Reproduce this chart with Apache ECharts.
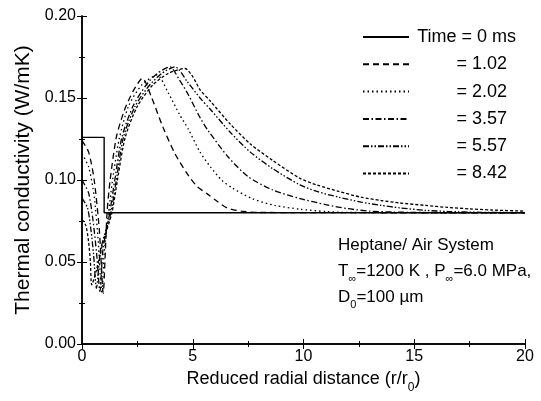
<!DOCTYPE html>
<html>
<head>
<meta charset="utf-8">
<script src="https://cdn.jsdelivr.net/npm/echarts@6/dist/echarts.min.js"></script>
<style>
html,body{margin:0;padding:0;background:#fff;}
#chart{width:541px;height:401px;}
</style>
</head>
<body>
<div id="chart"></div>
<script>
// ---- data ----
const seriesNames = ['Time = 0 ms', '= 1.02', '= 2.02', '= 3.57', '= 5.57', '= 8.42'];

const x_t0 = [0, 1.0, 1.0, 20];
const y_t0 = [0.126, 0.126, 0.080, 0.080];

const x_t102 = [0,0.3,0.55,0.78,0.96,1.05,1.13,1.27,1.55,1.9,2.3,2.73,3.15,3.66,4.2,4.74,5.2,5.64,6.1,6.55,7.2,8.0,20];
const y_t102 = [0.124,0.117,0.100,0.070,0.031,0.055,0.080,0.100,0.126,0.142,0.154,0.162,0.150,0.132,0.116,0.104,0.096,0.0917,0.087,0.083,0.081,0.0802,0.080];

const x_t202 = [0,0.3,0.55,0.72,0.9,1.0,1.2,1.38,1.68,2.1,2.7,3.39,3.9,4.4,4.8,5.33,5.8,6.3,6.8,7.7,8.7,9.84,11,12,20];
const y_t202 = [0.116,0.108,0.090,0.065,0.031,0.055,0.080,0.100,0.125,0.145,0.158,0.164,0.153,0.140,0.131,0.117,0.108,0.100,0.095,0.0885,0.0845,0.0822,0.0808,0.0802,0.080];

const x_t357 = [0,0.3,0.5,0.66,0.81,0.95,1.25,1.48,1.8,2.3,2.9,3.4,3.97,4.4,4.8,5.33,5.7,6.6,7.5,8.6,9.84,11,12,13,14,15,20];
const y_t357 = [0.100,0.092,0.075,0.055,0.032,0.058,0.080,0.100,0.126,0.145,0.158,0.165,0.169,0.161,0.152,0.138,0.130,0.114,0.102,0.094,0.0887,0.085,0.0825,0.081,0.0805,0.0802,0.080];

const x_t557 = [0,0.25,0.4,0.52,0.65,0.85,1.3,1.55,1.87,2.4,3.0,3.6,4.2,4.75,5.33,5.8,6.7,7.6,8.6,9.84,10.6,11.6,12.6,13.5,14.36,15.5,16.5,18,20];
const y_t557 = [0.089,0.083,0.070,0.055,0.034,0.058,0.080,0.100,0.126,0.145,0.157,0.165,0.169,0.160,0.150,0.143,0.129,0.117,0.107,0.097,0.093,0.0895,0.0865,0.0845,0.083,0.0815,0.0808,0.0803,0.0801];

const x_t842 = [0,0.18,0.3,0.38,0.44,0.65,0.95,1.35,1.6,1.95,2.5,3.2,3.9,4.65,5.0,5.33,5.8,6.7,7.6,8.6,9.84,10.6,11.6,12.6,13.5,14.36,15.5,16.5,17.5,18.5,20];
const y_t842 = [0.076,0.072,0.062,0.050,0.036,0.045,0.062,0.080,0.100,0.126,0.145,0.158,0.165,0.168,0.163,0.155,0.148,0.134,0.122,0.112,0.101,0.097,0.093,0.0895,0.0875,0.086,0.0845,0.0833,0.0824,0.0817,0.081];

const xTicks = [0, 5, 10, 15, 20];
const yTicks = [0.00, 0.05, 0.10, 0.15, 0.20];

// ---- build ----
const FONT = '"Liberation Sans", Arial, sans-serif';
const zip = (xs, ys) => xs.map((x, i) => [x, ys[i]]);
const allX = [x_t0, x_t102, x_t202, x_t357, x_t557, x_t842];
const allY = [y_t0, y_t102, y_t202, y_t357, y_t557, y_t842];
const dashes = ['solid', [6, 4], [1.5, 3], [6, 2.5, 1.5, 2.5], [6, 2, 1.5, 2, 1.5, 2], [3, 2]];

const series = seriesNames.map((name, i) => ({
  name: name,
  type: 'line',
  data: zip(allX[i], allY[i]),
  showSymbol: false,
  symbol: 'none',
  smooth: i === 0 ? false : 0.25,
  lineStyle: { color: '#000', width: i === 0 ? 1.4 : 1.3, type: dashes[i] },
  itemStyle: { color: '#000' },
  animation: false,
  z: 2
}));

const axisCommon = {
  axisLine: { show: true, lineStyle: { color: '#000', width: 1.5 } },
  axisTick: { show: true, inside: true, length: 5, lineStyle: { color: '#000', width: 1 } },
  minorTick: { show: true, splitNumber: 2, length: 3, lineStyle: { color: '#000', width: 1 } },
  splitLine: { show: false }
};

const chart = echarts.init(document.getElementById('chart'), null, { renderer: 'canvas' });
chart.setOption({
  animation: false,
  backgroundColor: '#fff',
  grid: { left: 82, right: 16, top: 16, bottom: 57 },
  xAxis: [
    Object.assign({}, axisCommon, {
      type: 'value', min: xTicks[0], max: xTicks[xTicks.length - 1], interval: 5,
      position: 'bottom',
      axisLabel: { color: '#000', fontSize: 16, fontFamily: FONT, margin: 5 },
      name: 'Reduced radial distance (r/r{sub|0})',
      nameLocation: 'middle', nameGap: 26,
      nameTextStyle: {
        color: '#000', fontSize: 18, fontFamily: FONT,
        rich: { sub: { fontSize: 12, fontFamily: FONT, color: '#000', verticalAlign: 'bottom', lineHeight: 12, padding: [0, 0, -6, 0] } }
      }
    }),
    Object.assign({}, axisCommon, {
      type: 'value', min: xTicks[0], max: xTicks[xTicks.length - 1], interval: 5,
      position: 'top', axisLabel: { show: false }
    })
  ],
  yAxis: [
    Object.assign({}, axisCommon, {
      type: 'value', min: yTicks[0], max: yTicks[yTicks.length - 1], interval: 0.05,
      position: 'left',
      axisLabel: { color: '#000', fontSize: 16, fontFamily: FONT, margin: 6, formatter: v => v.toFixed(2) },
      name: 'Thermal conductivity (W/mK)',
      nameLocation: 'middle', nameGap: 45, nameRotate: 90,
      nameTextStyle: { color: '#000', fontSize: 21, fontFamily: FONT }
    }),
    Object.assign({}, axisCommon, {
      type: 'value', min: yTicks[0], max: yTicks[yTicks.length - 1], interval: 0.05,
      position: 'right', axisLabel: { show: false }
    })
  ],
  legend: {
    data: seriesNames,
    orient: 'vertical',
    left: 362, top: 27,
    padding: 0,
    itemWidth: 46, itemHeight: 10, itemGap: 7.3,
    selectedMode: false,
    itemStyle: { opacity: 0, color: 'rgba(0,0,0,0)', borderColor: 'rgba(0,0,0,0)', borderWidth: 0 },
    textStyle: {
      color: '#000', fontSize: 18, fontFamily: FONT, lineHeight: 20,
      rich: {
        b: { width: 102, align: 'right', fontSize: 18, fontFamily: FONT, color: '#000', lineHeight: 20 },
        a: { width: 93, align: 'right', fontSize: 18, fontFamily: FONT, color: '#000', lineHeight: 20 }
      }
    },
    formatter: n => (n.indexOf('Time') === 0 ? '{b|' : '{a|') + n + '}'
  },
  graphic: [{
    type: 'text',
    left: 338, top: 237,
    style: {
      text: '{m|Heptane/ Air System}\n{m|T}{s|∞}{m|=1200 K , P}{s|∞}{m|=6.0 MPa,}\n{m|D}{s|0}{m|=100 µm}',
      fill: '#000',
      font: '17px ' + FONT,
      rich: {
        m: { fontSize: 17, fontFamily: FONT, fill: '#000', lineHeight: 26, verticalAlign: 'middle' },
        s: { fontSize: 11, fontFamily: FONT, fill: '#000', lineHeight: 14, verticalAlign: 'bottom' }
      }
    }
  }],
  series: series
});
</script>
</body>
</html>
